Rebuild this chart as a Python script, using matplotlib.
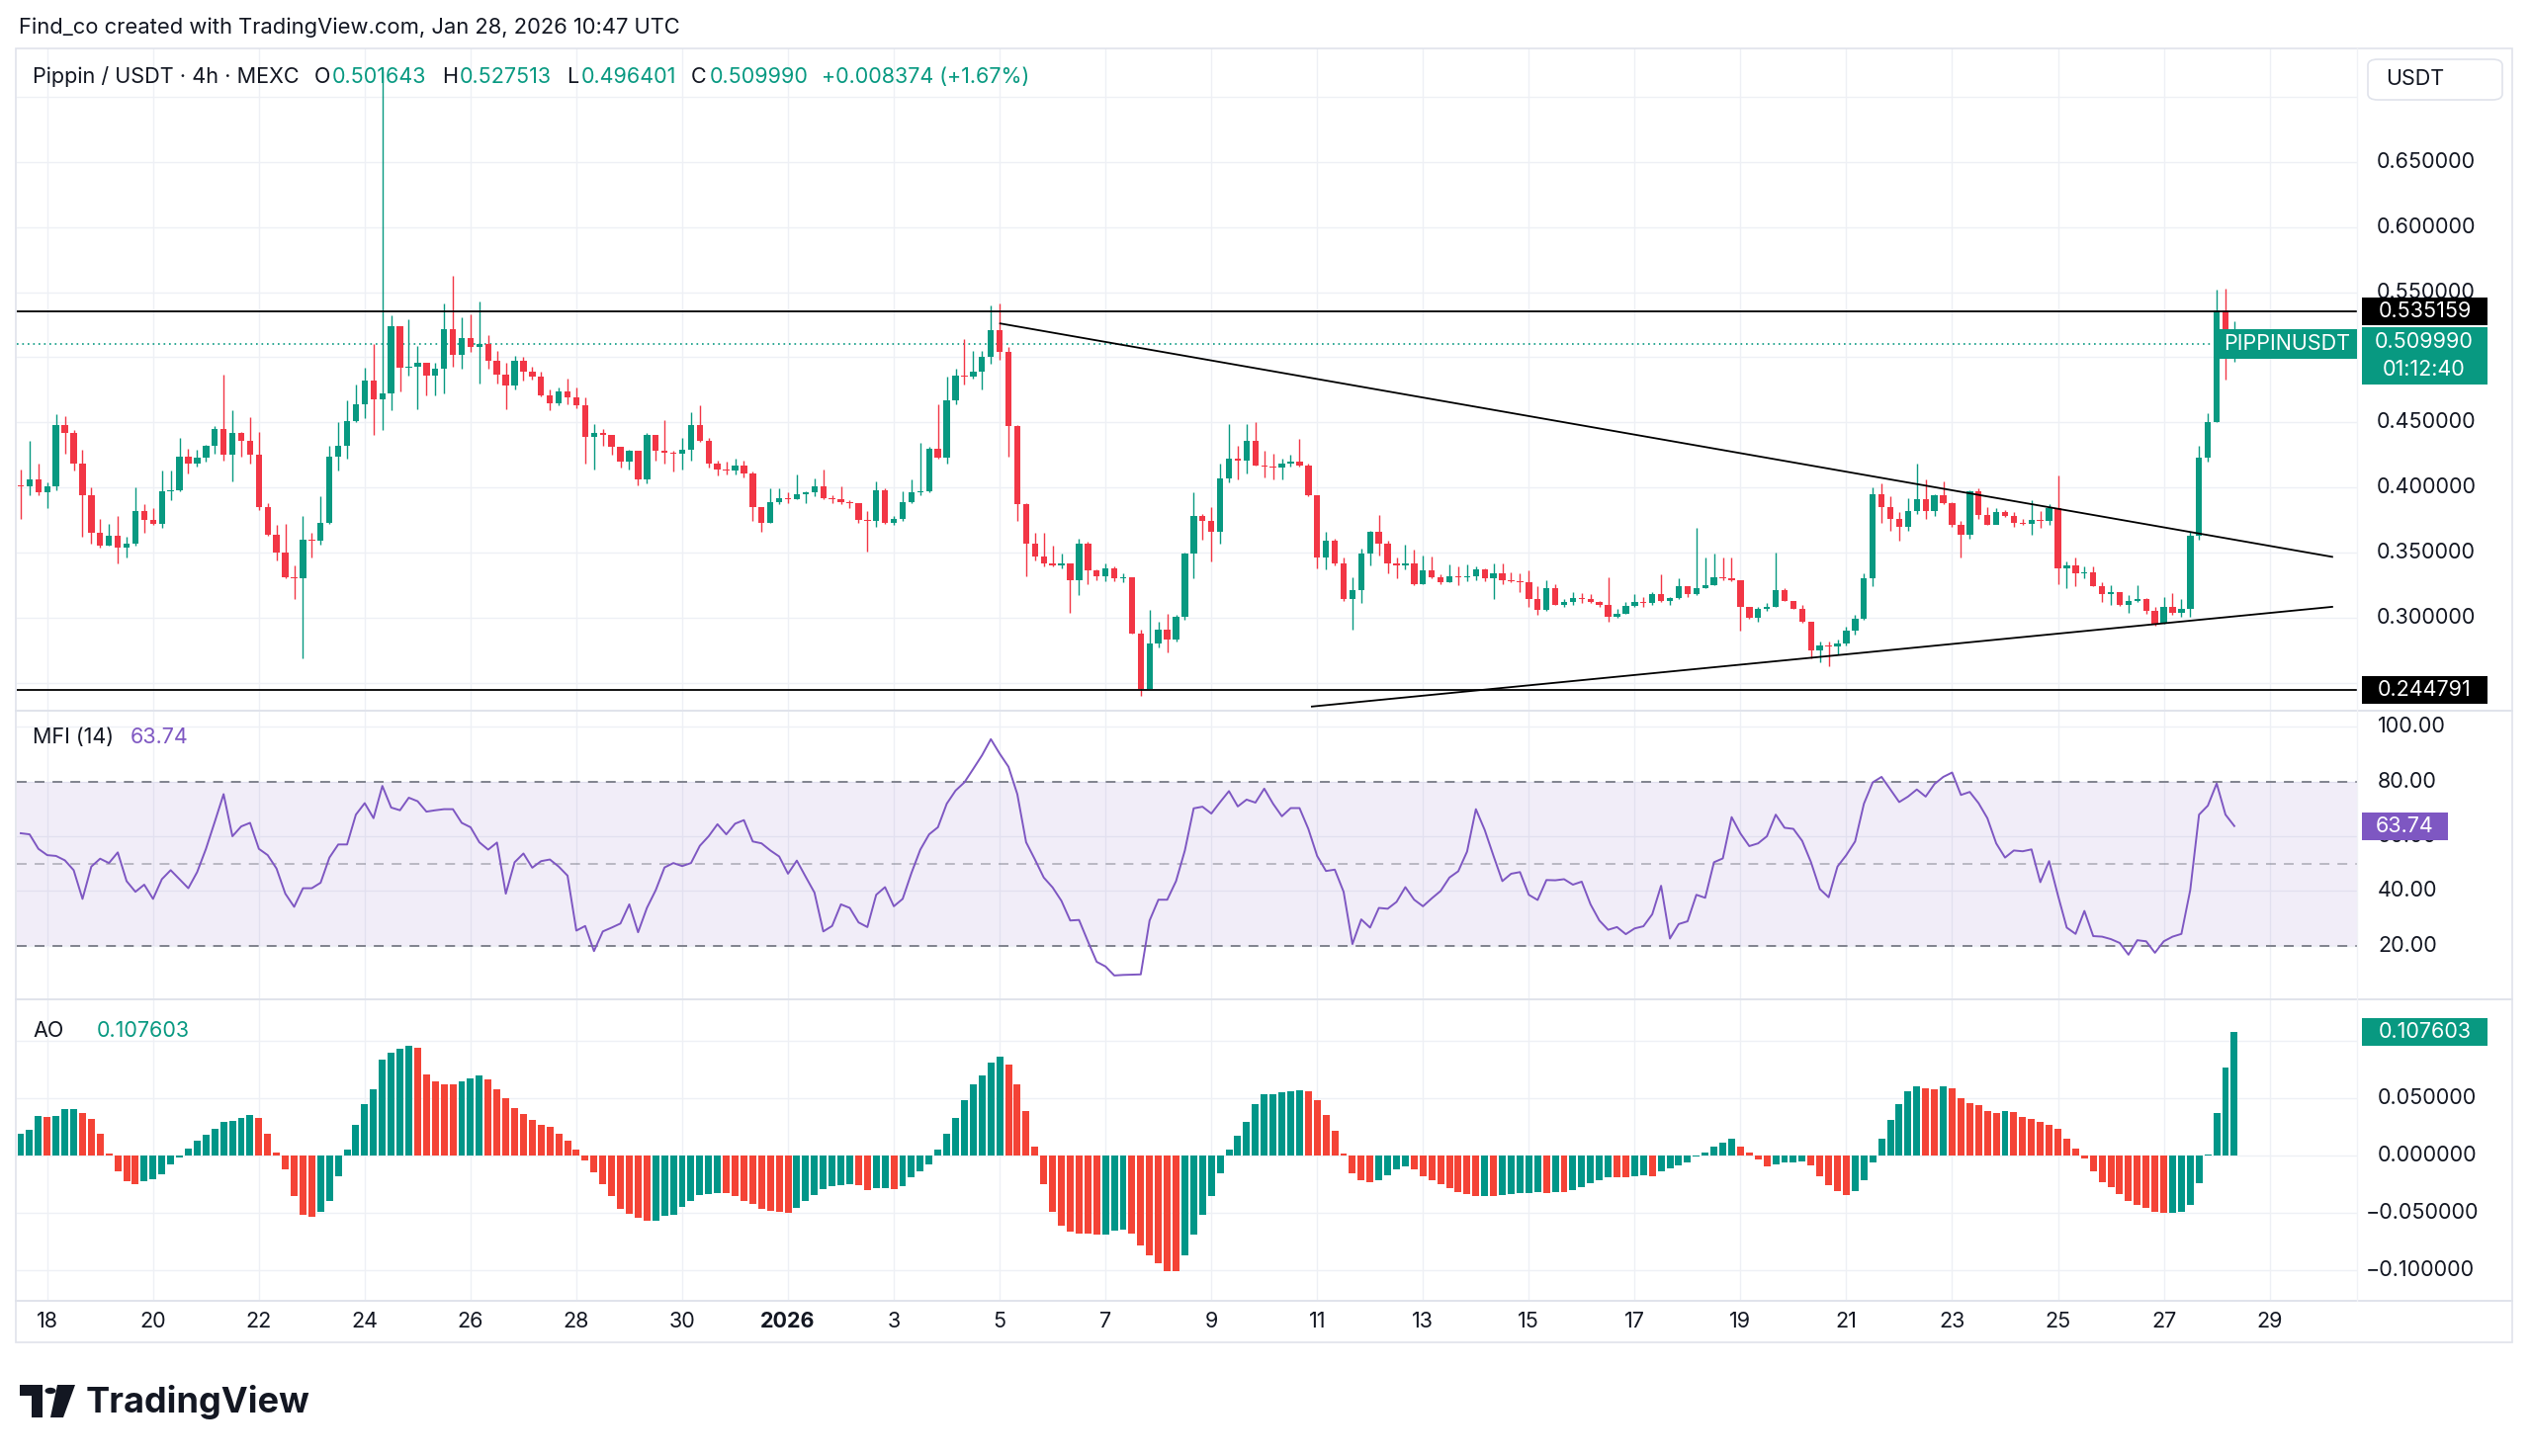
# Grafico de velas Pippin / USDT (4h) con paneles MFI y AO
# estilo captura de TradingView

# Para calculos numericos
import numpy as np

# Para fechas
import pandas as pd

# Para crear graficas
import matplotlib
matplotlib.use("Agg")
import matplotlib.pyplot as plt
from matplotlib.patches import Rectangle, Polygon, Circle, FancyBboxPatch

# fuentes
plt.rcParams["font.family"] = ["Inter", "DejaVu Sans"]

# ---------------- datos ----------------

# primera vela (velas de 4 horas)
Inicio = "2025-12-17 12:00"
Apertura_inicial = 0.402

# cierres de cada vela
Cierres = [
    0.401, 0.406, 0.396, 0.401, 0.448, 0.442, 0.418, 0.394, 0.365, 0.355, 0.363, 0.354,
    0.357, 0.382, 0.375, 0.372, 0.397, 0.398, 0.424, 0.418, 0.423, 0.432, 0.445, 0.425,
    0.442, 0.436, 0.425, 0.385, 0.364, 0.350, 0.331, 0.330, 0.360, 0.359, 0.373, 0.424,
    0.432, 0.451, 0.464, 0.482, 0.468, 0.472, 0.524, 0.492, 0.493, 0.496, 0.486, 0.491,
    0.522, 0.502, 0.515, 0.508, 0.510, 0.497, 0.487, 0.478, 0.497, 0.489, 0.485, 0.471,
    0.465, 0.474, 0.469, 0.463, 0.439, 0.442, 0.440, 0.431, 0.420, 0.428, 0.406, 0.440,
    0.428, 0.427, 0.426, 0.429, 0.448, 0.436, 0.418, 0.414, 0.413, 0.417, 0.411, 0.385,
    0.373, 0.389, 0.392, 0.391, 0.395, 0.396, 0.401, 0.392, 0.391, 0.389, 0.388, 0.375,
    0.374, 0.398, 0.373, 0.376, 0.389, 0.396, 0.397, 0.430, 0.423, 0.467, 0.486, 0.485,
    0.489, 0.500, 0.521, 0.504, 0.447, 0.387, 0.357, 0.347, 0.342, 0.340, 0.342, 0.329,
    0.357, 0.336, 0.332, 0.338, 0.330, 0.331, 0.288, 0.245, 0.280, 0.291, 0.283, 0.301,
    0.349, 0.378, 0.374, 0.366, 0.407, 0.422, 0.421, 0.436, 0.417, 0.416, 0.415, 0.418,
    0.420, 0.417, 0.394, 0.346, 0.359, 0.342, 0.314, 0.321, 0.349, 0.366, 0.357, 0.342,
    0.340, 0.342, 0.326, 0.336, 0.331, 0.327, 0.332, 0.331, 0.332, 0.337, 0.330, 0.334,
    0.329, 0.328, 0.327, 0.314, 0.306, 0.323, 0.310, 0.312, 0.315, 0.314, 0.312, 0.310,
    0.301, 0.303, 0.309, 0.312, 0.311, 0.318, 0.313, 0.315, 0.324, 0.318, 0.323, 0.325,
    0.331, 0.330, 0.329, 0.308, 0.300, 0.307, 0.308, 0.321, 0.313, 0.307, 0.297, 0.275,
    0.279, 0.278, 0.280, 0.290, 0.299, 0.330, 0.395, 0.385, 0.376, 0.370, 0.382, 0.391,
    0.382, 0.394, 0.388, 0.371, 0.364, 0.397, 0.379, 0.371, 0.381, 0.378, 0.373, 0.372,
    0.375, 0.374, 0.384, 0.338, 0.340, 0.334, 0.335, 0.324, 0.318, 0.320, 0.310, 0.313,
    0.314, 0.305, 0.295, 0.308, 0.304, 0.307, 0.363, 0.423, 0.450, 0.536, 0.5016, 0.50999,
]

# maximos de cada vela
Maximos = [
    0.414, 0.436, 0.418, 0.404, 0.456, 0.455, 0.444, 0.429, 0.400, 0.376, 0.372, 0.378,
    0.362, 0.400, 0.387, 0.384, 0.413, 0.413, 0.438, 0.430, 0.429, 0.433, 0.447, 0.487,
    0.459, 0.443, 0.454, 0.443, 0.388, 0.371, 0.372, 0.340, 0.378, 0.365, 0.393, 0.432,
    0.450, 0.467, 0.479, 0.492, 0.510, 0.720, 0.532, 0.524, 0.529, 0.509, 0.496, 0.496,
    0.541, 0.563, 0.531, 0.533, 0.543, 0.517, 0.505, 0.496, 0.501, 0.500, 0.493, 0.489,
    0.475, 0.477, 0.484, 0.477, 0.469, 0.449, 0.445, 0.440, 0.430, 0.429, 0.426, 0.442,
    0.440, 0.452, 0.428, 0.438, 0.458, 0.463, 0.438, 0.421, 0.420, 0.422, 0.421, 0.412,
    0.385, 0.399, 0.399, 0.396, 0.410, 0.397, 0.407, 0.414, 0.394, 0.401, 0.390, 0.388,
    0.382, 0.405, 0.399, 0.378, 0.397, 0.406, 0.434, 0.431, 0.464, 0.485, 0.491, 0.514,
    0.505, 0.505, 0.540, 0.541, 0.508, 0.448, 0.388, 0.365, 0.365, 0.355, 0.349, 0.342,
    0.361, 0.358, 0.337, 0.342, 0.339, 0.334, 0.331, 0.291, 0.306, 0.297, 0.303, 0.302,
    0.350, 0.396, 0.380, 0.385, 0.418, 0.449, 0.432, 0.449, 0.450, 0.428, 0.426, 0.422,
    0.425, 0.437, 0.418, 0.394, 0.366, 0.361, 0.346, 0.331, 0.353, 0.367, 0.379, 0.359,
    0.346, 0.356, 0.352, 0.348, 0.347, 0.333, 0.341, 0.339, 0.341, 0.339, 0.338, 0.342,
    0.342, 0.335, 0.334, 0.336, 0.324, 0.329, 0.326, 0.314, 0.320, 0.319, 0.318, 0.313,
    0.331, 0.307, 0.312, 0.318, 0.316, 0.320, 0.333, 0.316, 0.330, 0.324, 0.369, 0.346,
    0.349, 0.346, 0.346, 0.329, 0.308, 0.308, 0.311, 0.350, 0.323, 0.313, 0.310, 0.297,
    0.282, 0.282, 0.283, 0.293, 0.302, 0.334, 0.400, 0.403, 0.393, 0.381, 0.392, 0.418,
    0.406, 0.395, 0.405, 0.389, 0.374, 0.398, 0.399, 0.385, 0.384, 0.383, 0.381, 0.376,
    0.390, 0.382, 0.387, 0.409, 0.343, 0.346, 0.339, 0.339, 0.327, 0.325, 0.319, 0.317,
    0.325, 0.315, 0.308, 0.316, 0.319, 0.314, 0.366, 0.432, 0.457, 0.552, 0.553, 0.527513,
]

# minimos de cada vela
Minimos = [
    0.376, 0.394, 0.394, 0.384, 0.398, 0.426, 0.413, 0.362, 0.357, 0.354, 0.355, 0.342,
    0.346, 0.355, 0.365, 0.371, 0.369, 0.390, 0.397, 0.411, 0.416, 0.420, 0.426, 0.421,
    0.405, 0.424, 0.418, 0.383, 0.363, 0.344, 0.330, 0.314, 0.269, 0.346, 0.356, 0.372,
    0.413, 0.422, 0.450, 0.453, 0.440, 0.444, 0.459, 0.474, 0.486, 0.460, 0.471, 0.471,
    0.472, 0.493, 0.491, 0.504, 0.480, 0.491, 0.480, 0.460, 0.475, 0.482, 0.483, 0.470,
    0.459, 0.463, 0.464, 0.461, 0.418, 0.414, 0.432, 0.425, 0.415, 0.414, 0.402, 0.403,
    0.421, 0.418, 0.412, 0.414, 0.421, 0.435, 0.415, 0.409, 0.410, 0.410, 0.408, 0.374,
    0.366, 0.373, 0.387, 0.388, 0.391, 0.388, 0.393, 0.391, 0.388, 0.387, 0.384, 0.373,
    0.351, 0.370, 0.372, 0.371, 0.374, 0.388, 0.394, 0.396, 0.422, 0.418, 0.464, 0.479,
    0.484, 0.475, 0.495, 0.498, 0.424, 0.374, 0.332, 0.344, 0.339, 0.339, 0.338, 0.304,
    0.317, 0.326, 0.329, 0.328, 0.328, 0.327, 0.288, 0.240, 0.247, 0.277, 0.273, 0.282,
    0.298, 0.330, 0.360, 0.343, 0.357, 0.404, 0.406, 0.411, 0.417, 0.408, 0.406, 0.406,
    0.416, 0.416, 0.393, 0.338, 0.337, 0.340, 0.313, 0.291, 0.311, 0.340, 0.348, 0.334,
    0.330, 0.337, 0.325, 0.326, 0.330, 0.326, 0.327, 0.325, 0.328, 0.329, 0.328, 0.314,
    0.326, 0.327, 0.320, 0.308, 0.302, 0.305, 0.310, 0.308, 0.310, 0.311, 0.311, 0.308,
    0.297, 0.300, 0.303, 0.308, 0.308, 0.310, 0.312, 0.310, 0.314, 0.316, 0.317, 0.323,
    0.325, 0.329, 0.328, 0.290, 0.299, 0.297, 0.305, 0.308, 0.313, 0.307, 0.296, 0.269,
    0.266, 0.263, 0.272, 0.279, 0.287, 0.298, 0.324, 0.373, 0.367, 0.359, 0.367, 0.380,
    0.376, 0.378, 0.387, 0.370, 0.346, 0.361, 0.376, 0.371, 0.372, 0.377, 0.370, 0.371,
    0.364, 0.369, 0.371, 0.326, 0.323, 0.324, 0.330, 0.324, 0.312, 0.310, 0.309, 0.304,
    0.312, 0.303, 0.294, 0.295, 0.302, 0.301, 0.301, 0.360, 0.420, 0.450, 0.483, 0.496401,
]

# indice MFI (14)
Mfi = [
    61.1, 60.7, 55.4, 53.1, 52.8, 51.2, 47.6, 37.1, 48.9, 51.8, 50.2, 54.1,
    43.6, 39.7, 42.3, 37.1, 44.3, 47.6, 44.3, 41.0, 46.9, 55.4, 65.3, 75.4,
    60.0, 63.6, 64.9, 55.4, 53.1, 48.2, 39.0, 34.2, 41.0, 41.0, 43.0, 52.2,
    57.0, 57.0, 67.9, 72.1, 66.6, 78.4, 70.5, 69.5, 74.1, 72.8, 69.0, 69.5,
    69.9, 69.9, 64.9, 63.3, 57.8, 55.1, 57.7, 39.0, 50.5, 53.7, 48.5, 50.9,
    51.5, 48.9, 45.6, 25.5, 27.2, 18.0, 25.2, 26.6, 28.1, 35.1, 24.9, 33.8,
    40.3, 48.6, 50.2, 49.1, 50.2, 56.5, 60.0, 64.4, 60.7, 64.6, 65.9, 58.1,
    57.4, 54.8, 52.6, 46.3, 51.1, 45.2, 39.4, 25.2, 27.2, 35.1, 33.8, 28.5,
    26.8, 38.6, 41.4, 34.4, 37.1, 46.6, 55.1, 60.7, 63.3, 71.9, 76.7, 79.7,
    84.6, 89.6, 95.5, 90.2, 85.4, 75.4, 57.8, 51.5, 44.9, 41.3, 36.4, 29.2,
    29.4, 21.6, 14.1, 12.4, 9.1, 9.3, 9.4, 9.5, 29.2, 36.8, 36.8, 43.6,
    54.8, 70.2, 70.8, 68.3, 72.5, 76.5, 70.9, 73.4, 72.3, 77.4, 71.9, 67.3,
    70.3, 70.3, 62.7, 52.8, 47.3, 47.8, 39.7, 20.6, 29.6, 26.6, 33.8, 33.5,
    36.0, 41.4, 36.8, 34.4, 37.3, 40.0, 44.9, 47.2, 54.4, 69.9, 62.3, 52.8,
    43.6, 46.3, 46.9, 38.6, 36.7, 44.0, 43.9, 44.3, 42.3, 43.4, 35.1, 29.2,
    25.8, 26.8, 24.2, 26.3, 27.1, 31.5, 41.9, 22.6, 27.9, 28.9, 38.6, 37.5,
    50.5, 51.9, 67.0, 61.0, 56.4, 57.4, 60.0, 67.9, 63.1, 62.7, 58.3, 50.5,
    40.7, 37.7, 48.9, 53.1, 58.1, 71.9, 79.7, 81.7, 77.1, 72.5, 74.5, 77.1,
    74.5, 79.1, 81.7, 83.3, 75.1, 76.2, 72.1, 66.6, 57.4, 52.2, 54.8, 54.5,
    55.2, 43.2, 50.9, 38.4, 26.6, 24.3, 32.7, 23.5, 23.3, 22.4, 21.0, 16.7,
    22.0, 21.6, 17.4, 21.6, 23.3, 24.3, 40.3, 67.9, 71.2, 79.3, 67.9, 63.74,
]

# oscilador asombroso (AO)
Ao = [
    0.0184, 0.0225, 0.0343, 0.0336, 0.0342, 0.0405, 0.0406, 0.0367, 0.0317, 0.0184, 0.0016, -0.0142,
    -0.0228, -0.0250, -0.0228, -0.0206, -0.0165, -0.0079, -0.0022, 0.0057, 0.0127, 0.0177, 0.0231, 0.0288,
    0.0301, 0.0326, 0.0351, 0.0326, 0.0184, 0.0025, -0.0127, -0.0354, -0.0522, -0.0535, -0.0497, -0.0396,
    -0.0180, 0.0047, 0.0263, 0.0446, 0.0579, 0.0832, 0.0896, 0.0927, 0.0953, 0.0934, 0.0706, 0.0642,
    0.0620, 0.0617, 0.0642, 0.0668, 0.0699, 0.0665, 0.0573, 0.0494, 0.0415, 0.0358, 0.0304, 0.0269,
    0.0247, 0.0190, 0.0127, 0.0051, -0.0047, -0.0149, -0.0253, -0.0358, -0.0465, -0.0513, -0.0544, -0.0570,
    -0.0569, -0.0529, -0.0519, -0.0449, -0.0402, -0.0345, -0.0339, -0.0329, -0.0331, -0.0354, -0.0396, -0.0427,
    -0.0465, -0.0484, -0.0497, -0.0503, -0.0459, -0.0402, -0.0345, -0.0298, -0.0269, -0.0263, -0.0250, -0.0260,
    -0.0307, -0.0291, -0.0290, -0.0298, -0.0269, -0.0196, -0.0142, -0.0079, 0.0051, 0.0184, 0.0326, 0.0478,
    0.0617, 0.0699, 0.0810, 0.0864, 0.0794, 0.0623, 0.0383, 0.0073, -0.0253, -0.0491, -0.0617, -0.0671,
    -0.0687, -0.0688, -0.0696, -0.0694, -0.0655, -0.0646, -0.0687, -0.0791, -0.0870, -0.0946, -0.1010, -0.1011,
    -0.0870, -0.0693, -0.0522, -0.0354, -0.0155, 0.0047, 0.0168, 0.0294, 0.0446, 0.0532, 0.0533, 0.0548,
    0.0557, 0.0563, 0.0562, 0.0478, 0.0351, 0.0215, 0.0019, -0.0158, -0.0222, -0.0234, -0.0218, -0.0174,
    -0.0127, -0.0101, -0.0127, -0.0180, -0.0218, -0.0250, -0.0291, -0.0323, -0.0339, -0.0354, -0.0353, -0.0355,
    -0.0345, -0.0339, -0.0332, -0.0329, -0.0323, -0.0329, -0.0323, -0.0325, -0.0307, -0.0275, -0.0244, -0.0222,
    -0.0188, -0.0191, -0.0192, -0.0180, -0.0174, -0.0180, -0.0139, -0.0117, -0.0092, -0.0063, -0.0013, 0.0025,
    0.0079, 0.0111, 0.0142, 0.0079, 0.0025, -0.0038, -0.0101, -0.0079, -0.0063, -0.0062, -0.0054, -0.0085,
    -0.0180, -0.0263, -0.0313, -0.0345, -0.0313, -0.0222, -0.0060, 0.0142, 0.0310, 0.0446, 0.0557, 0.0601,
    0.0585, 0.0573, 0.0601, 0.0585, 0.0497, 0.0459, 0.0437, 0.0383, 0.0370, 0.0389, 0.0374, 0.0335,
    0.0320, 0.0294, 0.0269, 0.0231, 0.0142, 0.0057, -0.0028, -0.0139, -0.0237, -0.0282, -0.0339, -0.0396,
    -0.0434, -0.0459, -0.0497, -0.0506, -0.0500, -0.0496, -0.0434, -0.0244, 0.0010, 0.0367, 0.0763, 0.107603,
]

# niveles horizontales dibujados
Resistencia = 0.535159
Soporte = 0.244791

# lineas de tendencia (indice de vela, precio)
Linea_bajista = [(111.06, 0.526), (262.1, 0.3467)]
Linea_alcista = [(146.4, 0.2317), (262.1, 0.3083)]

# encabezado de la ultima vela
Ultima_apertura = 0.501643
Ultimo_maximo = 0.527513
Ultimo_minimo = 0.496401
Ultimo_cierre = 0.509990
Cambio = 0.008374
Cambio_pct = 1.67
Cuenta_atras = "01:12:40"

# marcas de los ejes (las tapadas por etiquetas no se escriben)
Precio_marcas = [0.30, 0.35, 0.40, 0.45, 0.55, 0.60, 0.65]
Precio_rejilla = [0.25, 0.30, 0.35, 0.40, 0.45, 0.50, 0.55, 0.60, 0.65, 0.70]
Mfi_marcas = [100, 80, 60, 40, 20]
Ao_marcas = [0.05, 0.0, -0.05, -0.10]
Ao_rejilla = [0.10, 0.05, 0.0, -0.05, -0.10]

# ---------------- figura ----------------

# colores
Verde = "#089981"
Rojo = "#F23645"
Verde_ao = "#009688"
Rojo_ao = "#F44336"
Morado = "#7E57C2"
Texto = "#131722"
Rejilla = "#EEF0F5"
Borde = "#E0E3EB"

Ancho, Alto = 2560, 1473
Figura = plt.figure(
    figsize=(Ancho / 100, Alto / 100),
    dpi=100
)
Figura.patch.set_facecolor("white")


# caja en pixeles (desde arriba) a fraccion de figura
def Caja(x0, y0, x1, y1):
    return [x0 / Ancho, 1 - y1 / Alto, (x1 - x0) / Ancho, (y1 - y0) / Alto]


def Px(x):
    return x / Ancho


def Py(y):
    return 1 - y / Alto


# posicion vertical en pixeles de un valor de un eje
def Y_px(Ax, Valor):
    return Alto - Ax.transData.transform((0, Valor))[1]


# paneles
Izq, Der = 17, 2384
Ax_precio = Figura.add_axes(Caja(Izq, 49, Der, 719))
Ax_mfi = Figura.add_axes(Caja(Izq, 719, Der, 1011))
Ax_ao = Figura.add_axes(Caja(Izq, 1011, Der, 1316))

# eje x por indice de vela
Paso = 8.92
X = np.arange(len(Cierres))
Tiempos = pd.date_range(Inicio, periods=len(Cierres), freq="4h")
Fechas_marcas = pd.date_range("2025-12-18", "2026-01-29", freq="2D")
Pos_marcas = np.array((Fechas_marcas - Tiempos[0]) / pd.Timedelta("4h"))

for Ax in (Ax_precio, Ax_mfi, Ax_ao):
    Ax.set_xlim((Izq - 21) / Paso, (Der - 21) / Paso)
    Ax.set_xticks([])
    Ax.set_yticks([])
    Ax.set_facecolor("none")
    for Lado in Ax.spines.values():
        Lado.set_visible(False)
    for P in Pos_marcas:
        Ax.axvline(P, color=Rejilla, lw=1.0, zorder=0)

Ax_precio.set_ylim(0.2285, 0.7373)
Ax_mfi.set_ylim(0.38, 105.9)
Ax_ao.set_ylim(-0.1271, 0.1361)

# rejilla horizontal
for V in Precio_rejilla:
    Ax_precio.axhline(V, color=Rejilla, lw=1.0, zorder=0)
for V in Mfi_marcas:
    Ax_mfi.axhline(V, color=Rejilla, lw=1.0, zorder=0)
for V in Ao_rejilla:
    Ax_ao.axhline(V, color=Rejilla, lw=1.0, zorder=0)

# ---------------- velas ----------------
C = np.array(Cierres)
O = np.r_[Apertura_inicial, C[:-1]]
Colores = np.where(C >= O, Verde, Rojo)

Ax_precio.vlines(
    X,
    Minimos,
    Maximos,
    colors=Colores,
    lw=1.0,
    zorder=3
)

Ax_precio.bar(
    X,
    np.maximum(np.abs(C - O), 0.0009),
    bottom=np.minimum(O, C),
    width=0.72,
    color=Colores,
    linewidth=0,
    zorder=4
)

# niveles horizontales
Ax_precio.axhline(Resistencia, color="black", lw=1.3, zorder=5)
Ax_precio.axhline(Soporte, color="black", lw=1.3, zorder=5)

# precio actual punteado
Ax_precio.axhline(
    Ultimo_cierre,
    color=Verde,
    lw=1.2,
    ls=(0, (1, 2.3)),
    zorder=2
)

# lineas de tendencia
for Linea in (Linea_bajista, Linea_alcista):
    Ax_precio.plot(
        [Linea[0][0], Linea[1][0]],
        [Linea[0][1], Linea[1][1]],
        color="black",
        lw=1.3,
        zorder=5
    )

# ---------------- MFI ----------------
Ax_mfi.axhspan(20, 80, color=Morado, alpha=0.1, lw=0, zorder=1)
Ax_mfi.axhline(80, color="#787B86", lw=1.3, ls=(0, (5.5, 4.5)), zorder=2)
Ax_mfi.axhline(20, color="#787B86", lw=1.3, ls=(0, (5.5, 4.5)), zorder=2)
Ax_mfi.axhline(50, color="#787B86", lw=1.3, ls=(0, (5.5, 4.5)), alpha=0.5, zorder=2)
Ax_mfi.plot(X, Mfi, color=Morado, lw=1.4, zorder=3)

# ---------------- AO ----------------
Ao_arr = np.array(Ao)
Sube_ao = np.r_[True, Ao_arr[1:] >= Ao_arr[:-1]]
Ax_ao.bar(
    X,
    Ao_arr,
    width=0.78,
    color=np.where(Sube_ao, Verde_ao, Rojo_ao),
    linewidth=0,
    zorder=3
)

# ---------------- marcos ----------------
Figura.add_artist(Rectangle(
    (Px(16), Py(1358)), Px(2541) - Px(16), Py(49) - Py(1358),
    transform=Figura.transFigure, fill=False, edgecolor=Borde, lw=1.2, zorder=0.5
))
for Yl in (719, 1011, 1316):
    Figura.add_artist(plt.Line2D(
        [Px(16), Px(2541)], [Py(Yl), Py(Yl)],
        transform=Figura.transFigure, color=Borde, lw=1.4, zorder=0.5
    ))
Figura.add_artist(plt.Line2D(
    [Px(Der), Px(Der)], [Py(1316), Py(49)],
    transform=Figura.transFigure, color="#F0F2F6", lw=1.0, zorder=0.5
))

Tam = 15.5

# ---------------- etiquetas de ejes ----------------
for V in Precio_marcas:
    Figura.text(Px(2404), Py(Y_px(Ax_precio, V)), f"{V:.6f}",
                ha="left", va="center", fontsize=Tam, color=Texto)

for V in Mfi_marcas:
    Figura.text(Px(2405), Py(Y_px(Ax_mfi, V)), f"{V:.2f}",
                ha="left", va="center", fontsize=Tam, color=Texto)

for V in Ao_marcas:
    Xt = 2393 if V < 0 else 2405
    Figura.text(Px(Xt), Py(Y_px(Ax_ao, V)), f"{V:.6f}".replace("-", "\u2212"),
                ha="left", va="center", fontsize=Tam, color=Texto)

# fechas
for P, F in zip(Pos_marcas, Fechas_marcas):
    Xf = Ax_precio.transData.transform((P, 0))[0]
    Es_anio = F.month == 1 and F.day == 1
    Figura.text(Px(Xf), Py(1337), "2026" if Es_anio else str(F.day),
                ha="center", va="center", fontsize=Tam, color=Texto,
                fontweight="bold" if Es_anio else "normal")


# caja con texto en el eje derecho
def Etiqueta(Yc, Texto_caja, Color, x0=2389, x1=2516, Alto_caja=28, Color_texto="white"):
    Figura.add_artist(Rectangle(
        (Px(x0), Py(Yc + Alto_caja / 2)), Px(x1) - Px(x0), Alto_caja / Alto,
        transform=Figura.transFigure, facecolor=Color, edgecolor="none", zorder=5
    ))
    Figura.text(Px((x0 + x1) / 2), Py(Yc), Texto_caja, ha="center", va="center",
                fontsize=Tam, color=Color_texto, zorder=6)


Etiqueta(Y_px(Ax_precio, Resistencia), f"{Resistencia:.6f}", "black")
Etiqueta(Y_px(Ax_precio, Soporte), f"{Soporte:.6f}", "black")

# precio actual con cuenta atras
Yp = Y_px(Ax_precio, Ultimo_cierre)
Figura.add_artist(Rectangle(
    (Px(2389), Py(Yp + 41)), Px(2516) - Px(2389), 58 / Alto,
    transform=Figura.transFigure, facecolor=Verde, edgecolor="none", zorder=5
))
Figura.text(Px(2452), Py(Yp - 2), f"{Ultimo_cierre:.6f}", ha="center", va="center",
            fontsize=Tam, color="white", zorder=6)
Figura.text(Px(2452), Py(Yp + 26), Cuenta_atras, ha="center", va="center",
            fontsize=Tam, color="white", zorder=6)

# nombre del simbolo
Figura.add_artist(Rectangle(
    (Px(2242), Py(Yp + 15)), Px(2384) - Px(2242), 30 / Alto,
    transform=Figura.transFigure, facecolor=Verde, edgecolor="none", zorder=5
))
Figura.text(Px(2313), Py(Yp), "PIPPINUSDT", ha="center", va="center",
            fontsize=Tam, color="white", zorder=6)

Etiqueta(Y_px(Ax_mfi, Mfi[-1]), f"{Mfi[-1]:.2f}", Morado, x1=2476)
Etiqueta(Y_px(Ax_ao, Ao[-1]), f"{Ao[-1]:.6f}", Verde)

# caja de moneda
Figura.add_artist(FancyBboxPatch(
    (Px(2395), Py(101)), Px(2531) - Px(2395), 41 / Alto,
    boxstyle="round,pad=0,rounding_size=0.004",
    transform=Figura.transFigure, facecolor="white", edgecolor=Borde, lw=1.2, zorder=5
))
Figura.text(Px(2413), Py(80), "USDT", ha="left", va="center",
            fontsize=Tam, color=Texto, zorder=6)

# ---------------- textos de cabecera ----------------
Figura.text(Px(19), Py(28), "Find_co created with TradingView.com, Jan 28, 2026 10:47 UTC",
            ha="left", va="center", fontsize=15.8, color=Texto)

Yh = 78
Figura.text(Px(33), Py(Yh), "Pippin / USDT \u00b7 4h \u00b7 MEXC",
            ha="left", va="center", fontsize=15.6, color=Texto)
Piezas = [
    (318, "O", Texto), (336, f"{Ultima_apertura:.6f}", Verde),
    (447, "H", Texto), (465, f"{Ultimo_maximo:.6f}", Verde),
    (573, "L", Texto), (588, f"{Ultimo_minimo:.6f}", Verde),
    (699, "C", Texto), (718, f"{Ultimo_cierre:.6f}", Verde),
    (831, f"+{Cambio:.6f} (+{Cambio_pct:.2f}%)", Verde),
]
for Xp, Cadena, Col in Piezas:
    Figura.text(Px(Xp), Py(Yh), Cadena, ha="left", va="center",
                fontsize=Tam, color=Col)

# titulos de paneles
Figura.text(Px(33), Py(746), "MFI (14)", ha="left", va="center", fontsize=Tam, color=Texto)
Figura.text(Px(132), Py(746), f"{Mfi[-1]:.2f}", ha="left", va="center", fontsize=Tam, color=Morado)
Figura.text(Px(33), Py(1043), "AO", ha="left", va="center", fontsize=Tam, color=Texto)
Figura.text(Px(98), Py(1043), f"{Ao[-1]:.6f}", ha="left", va="center", fontsize=Tam, color=Verde)

# ---------------- logo ----------------
Logo_t = [(20, 1401), (43, 1401), (43, 1434), (32, 1434), (32, 1412), (20, 1412)]
Logo_v = [(58, 1401), (76, 1401), (64, 1434), (51, 1434)]
for Forma in (Logo_t, Logo_v):
    Figura.add_artist(Polygon(
        [(Px(a), Py(b)) for a, b in Forma],
        closed=True, transform=Figura.transFigure, facecolor=Texto, edgecolor="none"
    ))
Figura.add_artist(Circle(
    (Px(51), Py(1407)), 5.5 / Ancho,
    transform=Figura.transFigure, facecolor=Texto, edgecolor="none"
))
Figura.text(Px(87), Py(1418), "TradingView", ha="left", va="center",
            fontsize=26, fontweight="bold", color=Texto)

# guardar
Figura.savefig("out.png", dpi=100)
